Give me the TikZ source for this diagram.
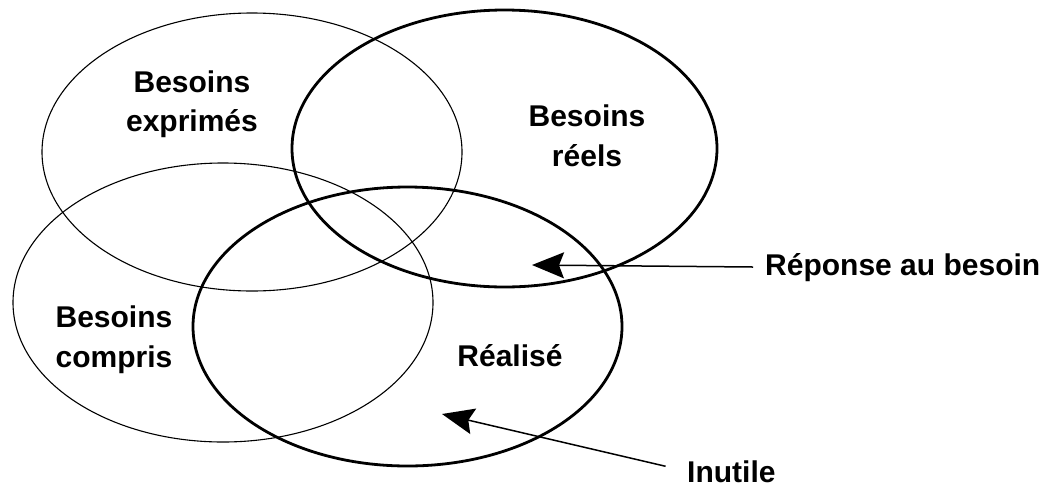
\documentclass[tikz,border=0pt]{standalone}
\usepackage{fontspec}
\setmainfont{Liberation Sans}
\usetikzlibrary{shapes.geometric,arrows.meta}
\begin{document}
\begin{tikzpicture}[x=1pt,y=-1pt,
  setthin/.style={draw=black,line width=1.1pt,ellipse,inner sep=0pt,minimum width=#1},
  setthick/.style={draw=black,line width=2.8pt,ellipse,inner sep=0pt,minimum width=#1},
  lbl/.style={font=\fontsize{30}{39.5}\selectfont\bfseries,align=center,inner sep=0pt},
  pointer/.style={line width=1.5pt,-{Stealth[length=32pt,width=26pt,inset=5pt]}}]
\useasboundingbox (0,0) rectangle (1051,488);
\node[setthin=420pt,minimum height=278pt] (expr) at (252,152) {};
\node[setthick=425pt,minimum height=277pt] (reels) at (504.5,148.5) {};
\node[setthin=420pt,minimum height=279pt] (compr) at (223,302.5) {};
\node[setthick=429pt,minimum height=279pt] (real) at (407.5,326.5) {};
\node[lbl] (texpr) at (192,104) {Besoins\\exprimés};
\node[lbl] (treels) at (587,136) {Besoins\\réels};
\node[lbl] (tcompr) at (114,339.5) {Besoins\\compris};
\node[lbl,anchor=base] (treal) at (510,366) {Réalisé};
\node[lbl,anchor=base west] (rep) at (765,275) {Réponse au besoin};
\node[lbl,anchor=base west] (inu) at (687,482) {Inutile};
\coordinate (tip1) at (532,265);
\coordinate (tip2) at (442,414);
\draw[pointer,shorten <=12pt] (rep.west) -- (tip1);
\draw[pointer,shorten <=22pt] (inu.west) -- (tip2);
\end{tikzpicture}
\end{document}
